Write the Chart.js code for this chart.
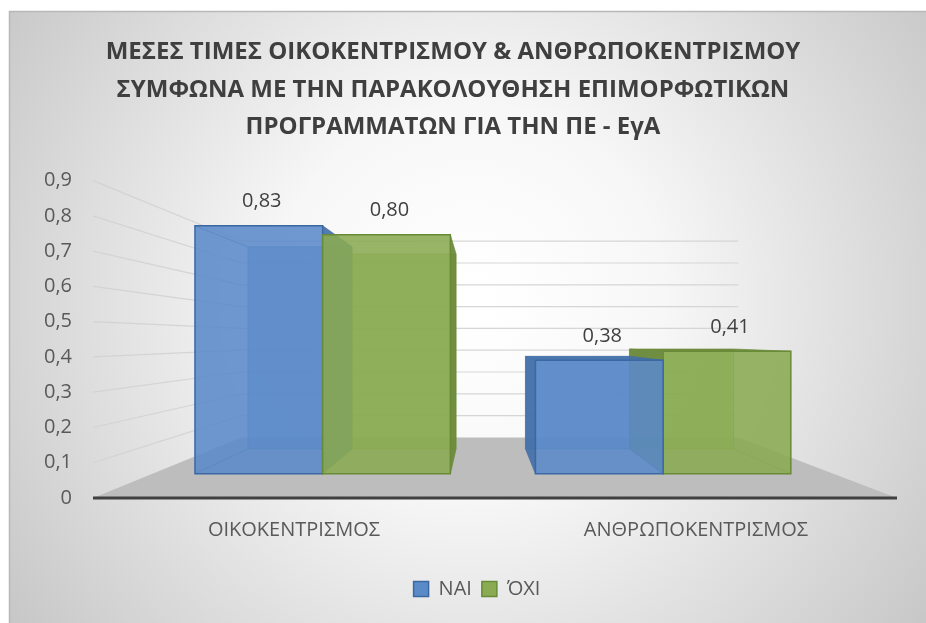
<!DOCTYPE html>
<html>
<head>
<meta charset="utf-8">
<script src="https://cdn.jsdelivr.net/npm/chart.js@4.4.1/dist/chart.umd.min.js"></script>
<style>
  html, body { margin: 0; padding: 0; background: #fff; }
  #wrap { width: 926px; height: 623px; position: relative; }
</style>
</head>
<body>
<div id="wrap"><canvas id="chart"></canvas></div>
<script>
// data
const categories = ["ΟΙΚΟΚΕΝΤΡΙΣΜΟΣ", "ΑΝΘΡΩΠΟΚΕΝΤΡΙΣΜΟΣ"];
const seriesNames = ["ΝΑΙ", "ΌΧΙ"];
const valuesNai = [0.83, 0.38];
const valuesOxi = [0.80, 0.41];
const titleLines = [
  "ΜΕΣΕΣ ΤΙΜΕΣ ΟΙΚΟΚΕΝΤΡΙΣΜΟΥ & ΑΝΘΡΩΠΟΚΕΝΤΡΙΣΜΟΥ",
  "ΣΥΜΦΩΝΑ ΜΕ ΤΗΝ ΠΑΡΑΚΟΛΟΥΘΗΣΗ ΕΠΙΜΟΡΦΩΤΙΚΩΝ",
  "ΠΡΟΓΡΑΜΜΑΤΩΝ ΓΙΑ ΤΗΝ ΠΕ - ΕγΑ"
];
const yMin = 0, yMax = 0.9, yStep = 0.1;

// colours per series: face, edge, side
const faceColors = ["#5a8ac8", "#8aab52"];
const edgeColors = ["#3b68a3", "#698a36"];
const sideColors = ["#4370a8", "#6a893a"];

// fake 3d view (fractions of the plot, depth as scale factors)
const view = { vpX: 0.483, vpValue: 0.45, wall: 0.618, barFront: 0.847, barBack: 0.69 };

const fontFamily = "'Open Sans', 'Noto Sans', sans-serif";
const comma = (v, d) => v.toFixed(d).replace(".", ",");

function projector(chart){
  const a = chart.chartArea;
  const vx = a.left + (a.right - a.left) * view.vpX;
  const vy = chart.scales.y.getPixelForValue(view.vpValue);
  return {
    vx, vy,
    p: (x, y, s) => [vx + (x - vx) * s, vy + (y - vy) * s]
  };
}

function poly(ctx, pts){
  ctx.beginPath();
  ctx.moveTo(pts[0][0], pts[0][1]);
  for (let i = 1; i < pts.length; i++) ctx.lineTo(pts[i][0], pts[i][1]);
  ctx.closePath();
}

const backdrop = {
  id: "backdrop",
  afterUpdate(chart){
    // legend sits a bit right of centre in the original
    const lg = chart.legend;
    if (!lg) return;
    lg.left += 24; lg.right += 24;
    lg.adjustHitBoxes();
  },
  beforeDraw(chart){
    const ctx = chart.ctx;
    const W = chart.width, H = chart.height;
    ctx.save();
    ctx.fillStyle = "#fff";
    ctx.fillRect(0, 0, W, H);
    const g = ctx.createRadialGradient(470, 300, 20, 470, 300, 600);
    g.addColorStop(0, "#ffffff");
    g.addColorStop(0.3, "#f7f7f7");
    g.addColorStop(1, "#c2c2c2");
    ctx.fillStyle = g;
    ctx.fillRect(9, 11, W - 9, H - 11);
    ctx.strokeStyle = "#b8b8b8";
    ctx.lineWidth = 1.5;
    ctx.beginPath();
    ctx.moveTo(9.5, H); ctx.lineTo(9.5, 11.5); ctx.lineTo(W, 11.5);
    ctx.stroke();

    // legend panel
    const hb = chart.legend && chart.legend.legendHitBoxes;
    if (hb && hb.length){
      const x0 = Math.min(...hb.map(b => b.left)) - 16;
      const x1 = Math.max(...hb.map(b => b.left + b.width)) + 6;
      const y0 = hb[0].top - 11;
      ctx.fillStyle = "rgba(255,255,255,0.22)";
      ctx.fillRect(x0, y0, x1 - x0, 43);
    }
    ctx.restore();
  }
};

const bars3d = {
  id: "bars3d",
  beforeDatasetsDraw(chart){
    const ctx = chart.ctx;
    const a = chart.chartArea;
    const ys = chart.scales.y;
    const { vx, vy, p } = projector(chart);
    ctx.save();

    // floor
    const fl = [p(a.left, a.bottom, 1), p(a.right, a.bottom, 1),
                p(a.right, a.bottom, view.wall), p(a.left, a.bottom, view.wall)];
    ctx.fillStyle = "#bdbdbd";
    poly(ctx, fl);
    ctx.fill();

    // side + back wall gridlines
    ctx.strokeStyle = "rgba(210,210,210,0.9)";
    ctx.lineWidth = 1.2;
    for (let v = yStep; v <= yMax + 1e-9; v += yStep){
      const y = ys.getPixelForValue(v);
      const f = p(a.left, y, 1), b = p(a.left, y, view.wall), r = p(a.right, y, view.wall);
      ctx.beginPath();
      ctx.moveTo(f[0], f[1]); ctx.lineTo(b[0], b[1]); ctx.lineTo(r[0], r[1]);
      ctx.stroke();
    }

    // front edge of floor = category axis line
    ctx.strokeStyle = "#404040";
    ctx.lineWidth = 3;
    ctx.beginPath();
    ctx.moveTo(a.left, a.bottom); ctx.lineTo(a.right, a.bottom);
    ctx.stroke();

    // collect bars from the library's elements
    const items = [];
    chart.data.datasets.forEach((ds, di) => {
      const meta = chart.getDatasetMeta(di);
      if (meta.hidden) return;
      meta.data.forEach((el, i) => {
        const { x, y, base, width } = el.getProps(["x", "y", "base", "width"], true);
        items.push({ di, i, x, y, base, width, value: ds.data[i] });
      });
    });
    items.sort((m, n) => Math.abs(n.x - vx) - Math.abs(m.x - vx));

    for (const it of items){
      const l = it.x - it.width / 2, r = it.x + it.width / 2;
      const t = it.y, bt = it.base;
      const sf = view.barFront, sb = view.barBack;
      const FTL = p(l, t, sf), FTR = p(r, t, sf), FBR = p(r, bt, sf), FBL = p(l, bt, sf);
      const BTL = p(l, t, sb), BTR = p(r, t, sb), BBR = p(r, bt, sb), BBL = p(l, bt, sb);

      // back of the box, seen through the transparent front
      ctx.fillStyle = faceColors[it.di];
      ctx.globalAlpha = 0.6;
      poly(ctx, [BTL, BTR, BBR, BBL]);
      ctx.fill();
      ctx.globalAlpha = 0.7;
      ctx.strokeStyle = edgeColors[it.di];
      ctx.lineWidth = 1;
      poly(ctx, [BTL, BTR, BBR, BBL]);
      ctx.stroke();
      ctx.beginPath();
      [[FTL, BTL], [FTR, BTR], [FBR, BBR], [FBL, BBL]].forEach(([m, n]) => {
        ctx.moveTo(m[0], m[1]); ctx.lineTo(n[0], n[1]);
      });
      ctx.stroke();

      // side / top face toward the viewer
      ctx.globalAlpha = 0.92;
      ctx.fillStyle = sideColors[it.di];
      if (r < vx){ poly(ctx, [FTR, BTR, BBR, FBR]); ctx.fill(); }
      if (l > vx){ poly(ctx, [FTL, BTL, BBL, FBL]); ctx.fill(); }
      if (t > vy){ poly(ctx, [FTL, FTR, BTR, BTL]); ctx.fill(); }

      // front face
      ctx.globalAlpha = 0.88;
      ctx.fillStyle = faceColors[it.di];
      poly(ctx, [FTL, FTR, FBR, FBL]);
      ctx.fill();
      ctx.globalAlpha = 1;
      ctx.strokeStyle = edgeColors[it.di];
      ctx.lineWidth = 1.5;
      poly(ctx, [FTL, FTR, FBR, FBL]);
      ctx.stroke();
    }

    // value labels above each bar's front face
    ctx.globalAlpha = 1;
    ctx.fillStyle = "#404040";
    ctx.font = "20px " + fontFamily;
    ctx.textAlign = "center";
    ctx.textBaseline = "middle";
    for (const it of items){
      const c = p(it.x, it.y, view.barFront);
      ctx.fillText(comma(it.value, 2), c[0] + 3, c[1] - 24);
    }
    ctx.restore();
    return false;
  }
};

new Chart(document.getElementById("chart"), {
  type: "bar",
  data: {
    labels: categories,
    datasets: [
      { label: seriesNames[0], data: valuesNai, backgroundColor: faceColors[0], borderColor: edgeColors[0], borderWidth: 1.5 },
      { label: seriesNames[1], data: valuesOxi, backgroundColor: faceColors[1], borderColor: edgeColors[1], borderWidth: 1.5 }
    ]
  },
  options: {
    responsive: true,
    maintainAspectRatio: false,
    animation: false,
    datasets: { bar: { categoryPercentage: 0.75, barPercentage: 1.0 } },
    layout: { padding: { left: 9, right: 29, top: 11, bottom: 14 } },
    plugins: {
      title: {
        display: true,
        text: titleLines,
        color: "#3f3f3f",
        font: { family: fontFamily, size: 24, weight: "bold", lineHeight: 1.55 },
        padding: { top: 23, bottom: 35 }
      },
      legend: {
        position: "bottom",
        labels: {
          color: "#595959",
          font: { family: fontFamily, size: 20 },
          boxWidth: 15,
          boxHeight: 15,
          padding: 10
        }
      },
      tooltip: { enabled: false }
    },
    scales: {
      x: {
        grid: { display: false, drawTicks: false },
        border: { display: false },
        ticks: { color: "#595959", font: { family: fontFamily, size: 20 }, padding: 20 },
        afterFit: (s) => { s.height = 71; }
      },
      y: {
        min: yMin, max: yMax,
        grid: { display: false, drawTicks: false },
        border: { display: false },
        ticks: {
          stepSize: yStep,
          color: "#595959",
          font: { family: fontFamily, size: 20 },
          padding: 21,
          callback: (v) => v === 0 ? "0" : comma(v, 1)
        },
        afterFit: (s) => { s.width = 84; }
      }
    }
  },
  plugins: [backdrop, bars3d]
});
</script>
</body>
</html>
